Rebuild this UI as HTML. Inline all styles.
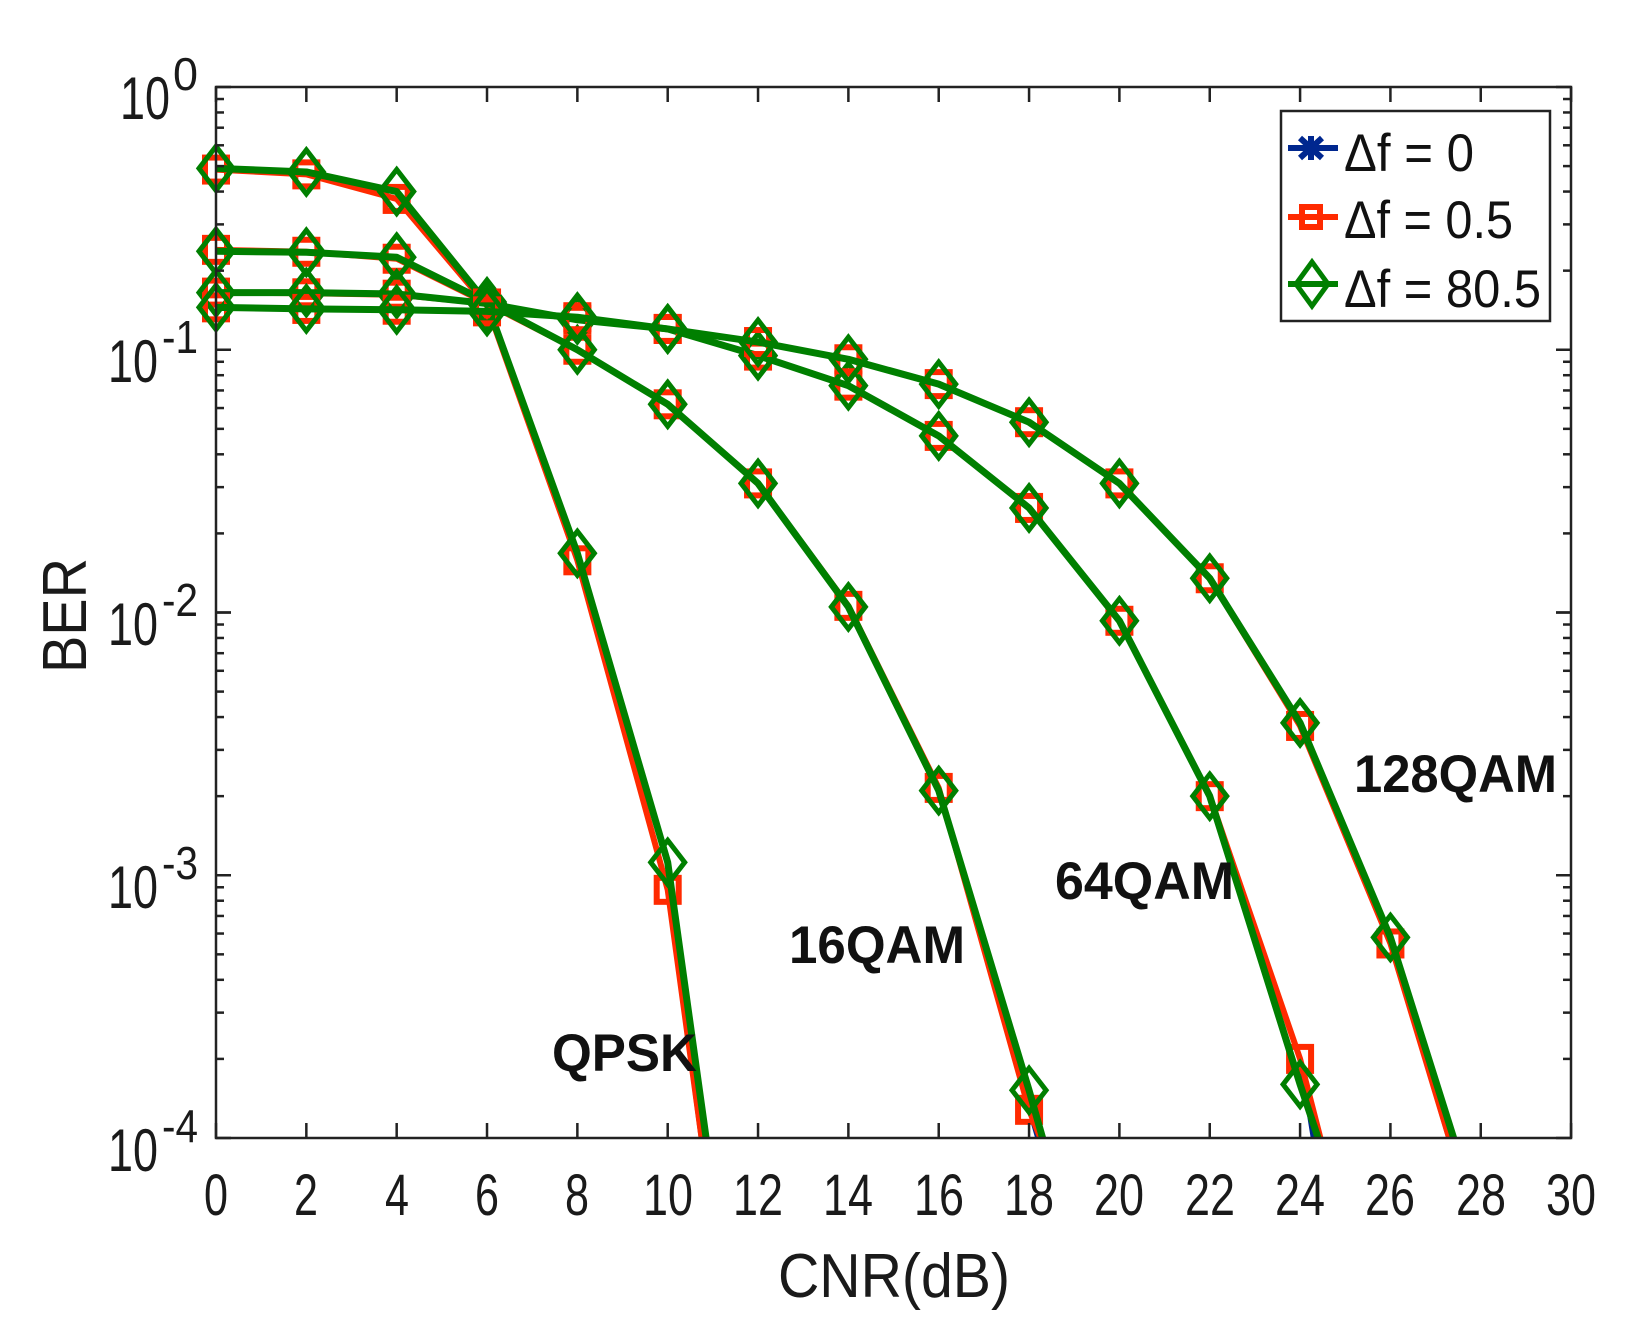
<!DOCTYPE html>
<html><head><meta charset="utf-8"><style>
html,body{margin:0;padding:0;background:#fff;}
svg{display:block;font-family:"Liberation Sans",sans-serif;}
</style></head><body>
<svg id="s" width="1650" height="1340" viewBox="0 0 1650 1340" xmlns="http://www.w3.org/2000/svg">
<rect width="1650" height="1340" fill="#fff"/>
<g id="plot"></g>
<rect x="216" y="87" width="1355" height="1051" fill="none" stroke="#222" stroke-width="2.5"/>
<g id="ticks" stroke="#222" stroke-width="2.5"></g>
<g font-size="58" fill="#1a1a1a" text-anchor="middle" lengthAdjust="spacingAndGlyphs">
<text x="216" y="1215" textLength="24" lengthAdjust="spacingAndGlyphs">0</text>
<text x="306" y="1215" textLength="24" lengthAdjust="spacingAndGlyphs">2</text>
<text x="397" y="1215" textLength="24" lengthAdjust="spacingAndGlyphs">4</text>
<text x="487" y="1215" textLength="24" lengthAdjust="spacingAndGlyphs">6</text>
<text x="577" y="1215" textLength="24" lengthAdjust="spacingAndGlyphs">8</text>
<text x="668" y="1215" textLength="50" lengthAdjust="spacingAndGlyphs">10</text>
<text x="758" y="1215" textLength="50" lengthAdjust="spacingAndGlyphs">12</text>
<text x="848" y="1215" textLength="50" lengthAdjust="spacingAndGlyphs">14</text>
<text x="939" y="1215" textLength="50" lengthAdjust="spacingAndGlyphs">16</text>
<text x="1029" y="1215" textLength="50" lengthAdjust="spacingAndGlyphs">18</text>
<text x="1119" y="1215" textLength="50" lengthAdjust="spacingAndGlyphs">20</text>
<text x="1210" y="1215" textLength="50" lengthAdjust="spacingAndGlyphs">22</text>
<text x="1300" y="1215" textLength="50" lengthAdjust="spacingAndGlyphs">24</text>
<text x="1390" y="1215" textLength="50" lengthAdjust="spacingAndGlyphs">26</text>
<text x="1481" y="1215" textLength="50" lengthAdjust="spacingAndGlyphs">28</text>
<text x="1571" y="1215" textLength="50" lengthAdjust="spacingAndGlyphs">30</text>
</g>
<g fill="#1a1a1a">
<text x="120" y="119" font-size="60" textLength="50" lengthAdjust="spacingAndGlyphs">10</text><text x="173" y="90" font-size="46" textLength="25" lengthAdjust="spacingAndGlyphs">0</text>
<text x="108" y="382" font-size="60" textLength="50" lengthAdjust="spacingAndGlyphs">10</text><text x="162" y="353" font-size="46" textLength="36" lengthAdjust="spacingAndGlyphs">-1</text>
<text x="108" y="645" font-size="60" textLength="50" lengthAdjust="spacingAndGlyphs">10</text><text x="162" y="616" font-size="46" textLength="36" lengthAdjust="spacingAndGlyphs">-2</text>
<text x="108" y="908" font-size="60" textLength="50" lengthAdjust="spacingAndGlyphs">10</text><text x="162" y="879" font-size="46" textLength="36" lengthAdjust="spacingAndGlyphs">-3</text>
<text x="108" y="1171" font-size="60" textLength="50" lengthAdjust="spacingAndGlyphs">10</text><text x="162" y="1142" font-size="46" textLength="36" lengthAdjust="spacingAndGlyphs">-4</text>
</g>
<text x="778" y="1297" font-size="62" textLength="232" lengthAdjust="spacingAndGlyphs" fill="#1a1a1a">CNR(dB)</text>
<text transform="translate(86,673) rotate(-90)" font-size="62" textLength="115" lengthAdjust="spacingAndGlyphs" fill="#1a1a1a">BER</text>
<g font-size="53" font-weight="bold" fill="#111">
<text x="552" y="1071" textLength="145" lengthAdjust="spacingAndGlyphs">QPSK</text>
<text x="789" y="963" textLength="176" lengthAdjust="spacingAndGlyphs">16QAM</text>
<text x="1055" y="899" textLength="179" lengthAdjust="spacingAndGlyphs">64QAM</text>
<text x="1354" y="792" textLength="203" lengthAdjust="spacingAndGlyphs">128QAM</text>
</g>
<rect x="1281" y="111" width="269" height="210" fill="#fff" stroke="#222" stroke-width="2.5"/>
<line x1="1288" y1="148" x2="1338" y2="148" stroke="#00278f" stroke-width="6"/>
<path d="M1300 138 L1322 158 M1300 158 L1322 138 M1311 136 L1311 160" stroke="#00278f" stroke-width="6"/>
<line x1="1288" y1="217" x2="1338" y2="217" stroke="#ff2a00" stroke-width="6"/>
<rect x="1302" y="207" width="18" height="20" fill="none" stroke="#ff2a00" stroke-width="6"/>
<line x1="1288" y1="284" x2="1338" y2="284" stroke="#007f00" stroke-width="6"/>
<path d="M1312 262 L1328 284 L1312 306 L1296 284 Z" fill="none" stroke="#007f00" stroke-width="5"/>
<g font-size="53" fill="#111">
<text x="1344" y="171" textLength="130" lengthAdjust="spacingAndGlyphs">Δf = 0</text>
<text x="1344" y="238" textLength="169" lengthAdjust="spacingAndGlyphs">Δf = 0.5</text>
<text x="1344" y="307" textLength="197" lengthAdjust="spacingAndGlyphs">Δf = 80.5</text>
</g>
</svg>
<script>
var X0=216,DX=45.17,Y0=87,DEC=262.75;
function px(x){return X0+x*DX;}
function py(v){return Y0-Math.log10(v)*DEC;}
var NS="http://www.w3.org/2000/svg";
function el(p,t,a){var e=document.createElementNS(NS,t);for(var k in a)e.setAttribute(k,a[k]);p.appendChild(e);return e;}
var tk=document.getElementById('ticks');
for(var i=0;i<=30;i+=2){var x=px(i);el(tk,'line',{x1:x,y1:1138,x2:x,y2:1123});el(tk,'line',{x1:x,y1:87,x2:x,y2:102});}
for(var d=0;d<4;d++){for(var m=1;m<=10;m++){var y=py(Math.pow(10,-d-1)*m);var L=(m==1||m==10)?15:8;
el(tk,'line',{x1:216,y1:y,x2:216+L,y2:y});el(tk,'line',{x1:1571,y1:y,x2:1571-L,y2:y});}}
var xs=[0,2,4,6,8,10,12,14,16,18,20,22,24,26];
var data={
q:{g:[0.49,0.475,0.40,0.15,0.0168,0.00112],r:[0.485,0.465,0.375,0.147,0.0158,0.00088],end:[10.85,10.75]},
a:{g:[0.237,0.235,0.225,0.152,0.1,0.062,0.031,0.0105,0.0021,0.000152],r:[0.24,0.236,0.222,0.15,0.1,0.062,0.031,0.0106,0.00215,0.000128],end:[18.3,18.25]},
b:{g:[0.165,0.165,0.163,0.15,0.13,0.12,0.095,0.073,0.047,0.025,0.0093,0.002,0.00016],r:[0.165,0.164,0.162,0.15,0.13,0.12,0.095,0.073,0.047,0.025,0.0093,0.002,0.0002],end:[24.4,24.45]},
c:{g:[0.145,0.143,0.142,0.14,0.133,0.12,0.107,0.092,0.074,0.053,0.031,0.0135,0.0038,0.00058],r:[0.145,0.143,0.142,0.14,0.133,0.12,0.107,0.092,0.074,0.053,0.031,0.0135,0.0037,0.00055],end:[27.4,27.3]}
};
var P=document.getElementById('plot');
function pts(arr,end){var s=[];for(var i=0;i<arr.length;i++)s.push(px(xs[i])+','+py(arr[i]));s.push(px(end)+','+1138);return s.join(' ');}
for(var k in data){var D=data[k];
el(P,'polyline',{points:pts(D.r,D.end[0]-0.12),fill:'none',stroke:'#00278f','stroke-width':4,'stroke-linejoin':'round'});
el(P,'polyline',{points:pts(D.r,D.end[1]),fill:'none',stroke:'#ff2a00','stroke-width':6,'stroke-linejoin':'round'});
for(var i=0;i<D.r.length;i++){var x=px(xs[i]),y=py(D.r[i]);el(P,'rect',{x:x-11,y:y-12,width:22,height:24,fill:'none',stroke:'#ff2a00','stroke-width':6});}
el(P,'polyline',{points:pts(D.g,D.end[0]),fill:'none',stroke:'#007f00','stroke-width':7,'stroke-linejoin':'round'});
for(var i=0;i<D.g.length;i++){var x=px(xs[i]),y=py(D.g[i]);el(P,'path',{d:'M'+x+' '+(y-22)+' L'+(x+17)+' '+y+' L'+x+' '+(y+22)+' L'+(x-17)+' '+y+' Z',fill:'none',stroke:'#007f00','stroke-width':5});}
}
</script>
</body></html>
